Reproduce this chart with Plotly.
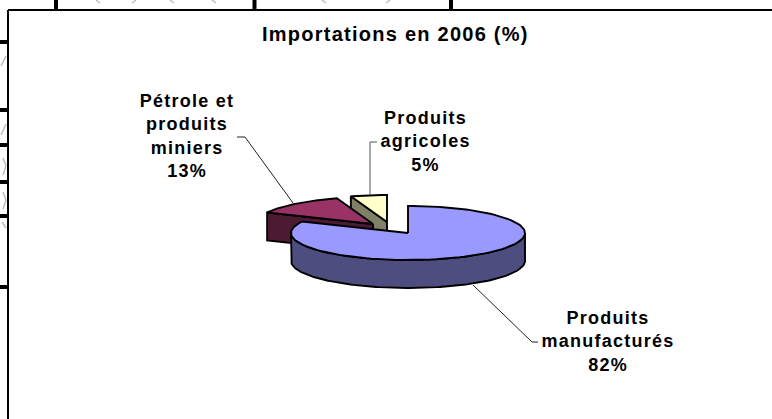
import numpy as np
import plotly.graph_objects as go

# Data
categories = ["Produits manufacturés", "Pétrole et produits miniers", "Produits agricoles"]
shares = [82, 13, 5]
label_texts = ["Produits<br>manufacturés<br>82%", "Pétrole et<br>produits<br>miniers<br>13%", "Produits<br>agricoles<br>5%"]
chart_title = "Importations en 2006 (%)"

# Styling / layout
W, H = 772, 419
RX, RY, DEPTH = 117, 27, 28
slice_centers = [(408, 233), (373, 224), (387, 222)]
top_colors = ["#9999FF", "#993366", "#FFFFCC"]
side_colors = ["#4D4D80", "#4D1A33", "#808066"]
FONT = "Liberation Sans, Arial, sans-serif"

angles = np.cumsum([0] + shares) / sum(shares) * 2 * np.pi


def pt(center, a, dy=0):
    a = np.asarray(a)
    return center[0] + RX * np.sin(a), center[1] - RY * np.cos(a) + dy


def poly(xs, ys, fill, name):
    return go.Scatter(x=list(xs), y=list(ys), mode="lines", fill="toself", fillcolor=fill,
                      line=dict(color="black", width=1.9), name=name, hoverinfo="skip",
                      showlegend=False)


def wedge(i):
    c = slice_centers[i]
    a = np.linspace(angles[i], angles[i + 1], 120)
    x, y = pt(c, a)
    return poly(np.r_[c[0], x, c[0]], np.r_[c[1], y, c[1]], top_colors[i], categories[i])


def radial_face(i, angle):
    c = slice_centers[i]
    x, y = pt(c, angle)
    return poly([c[0], x, x, c[0], c[0]],
                [c[1], y, y + DEPTH, c[1] + DEPTH, c[1]], side_colors[i], categories[i] + " (face)")


def rim(i):
    c = slice_centers[i]
    a = np.linspace(np.pi / 2, 3 * np.pi / 2, 120)
    x, y = pt(c, a)
    return poly(np.r_[x, x[::-1], x[0]], np.r_[y, (y + DEPTH)[::-1], y[0]],
                side_colors[i], categories[i] + " (rim)")


fig = go.Figure()

# Back to front: agricultural, petroleum, then the large slice
fig.add_trace(radial_face(2, angles[2]))
fig.add_trace(wedge(2))
fig.add_trace(radial_face(1, angles[1]))
fig.add_trace(wedge(1))
fig.add_trace(rim(0))
fig.add_trace(wedge(0))

# Leader lines
leaders = [
    ([538, 532, 473], [342, 342, 285], "#222222"),
    ([237, 245, 293], [137, 137, 203], "#222222"),
    ([377, 370, 370], [142, 142, 195], "#555555"),
]
for lx, ly, col in leaders:
    fig.add_trace(go.Scatter(x=lx, y=ly, mode="lines", line=dict(color=col, width=1),
                             hoverinfo="skip", showlegend=False))

shapes = []
# Chart frame, with the page behind it showing at the top and left
shapes.append(dict(type="line", x0=8, x1=8, y0=10, y1=H, line=dict(color="black", width=2)))
shapes.append(dict(type="line", x0=8, x1=W, y0=10, y1=10, line=dict(color="black", width=2)))
for vx in [56, 254.5, 451]:
    shapes.append(dict(type="line", x0=vx, x1=vx, y0=0, y1=10, line=dict(color="black", width=4)))
for hy in [42, 110, 145, 182, 216, 287]:
    shapes.append(dict(type="line", x0=0, x1=8, y0=hy, y1=hy, line=dict(color="black", width=4)))
# Faint remnants of the table behind
for (x0, y0, x1, y1) in [(1, 66, 6, 56), (1, 135, 6, 124), (3, 158, 6, 166), (6, 166, 3, 175),
                         (3, 192, 6, 200), (6, 200, 3, 209), (2, 222, 6, 228),
                         (96, 0, 100, 3), (132, 3, 136, 0), (170, 0, 174, 3), (216, 3, 212, 0),
                         (322, 0, 326, 3), (386, 3, 390, 0)]:
    shapes.append(dict(type="line", x0=x0, x1=x1, y0=y0, y1=y1, line=dict(color="#BDBDBD", width=1.5)))

annots = [
    dict(x=395, y=33.5, text=f"<b>{chart_title}</b>", font=dict(size=20)),
    dict(x=608, y=341.5, text=f"<b>{label_texts[0]}</b>", font=dict(size=18)),
    dict(x=187, y=136, text=f"<b>{label_texts[1]}</b>", font=dict(size=18)),
    dict(x=425, y=141.5, text=f"<b>{label_texts[2]}</b>", font=dict(size=18)),
]
for a in annots:
    a.update(xref="x", yref="y", showarrow=False, align="center", xanchor="center", yanchor="middle")
    a["font"].update(family=FONT, color="black")

fig.update_layout(
    width=W, height=H, margin=dict(l=0, r=0, t=0, b=0),
    paper_bgcolor="white", plot_bgcolor="white", showlegend=False, hovermode=False,
    xaxis=dict(range=[0, W], visible=False, fixedrange=True),
    yaxis=dict(range=[H, 0], visible=False, fixedrange=True),
    shapes=shapes, annotations=annots,
)

page_js = """
document.body.style.margin = '0';
document.body.style.overflow = 'hidden';
document.querySelectorAll('.annotation-text').forEach(function(t){
  t.style.letterSpacing = '1.25px';
});
"""
fig.write_html("out.html", config={"displayModeBar": False, "responsive": False},
               post_script=page_js)
